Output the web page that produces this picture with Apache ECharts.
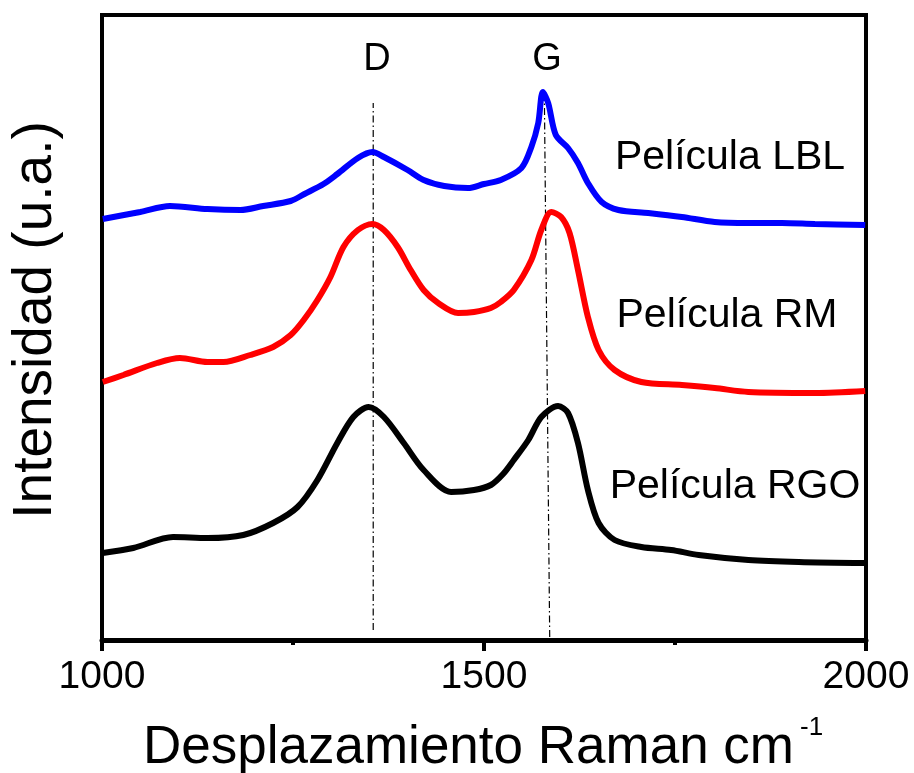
<!DOCTYPE html>
<html>
<head>
<meta charset="utf-8">
<script src="https://cdn.jsdelivr.net/npm/echarts@6/dist/echarts.min.js"></script>
<style>html,body{margin:0;padding:0;background:#fff;}#c{width:914px;height:773px;}</style>
</head>
<body>
<div id="c"></div>
<script>
// Raman shift (cm-1) vs intensity (arbitrary units, offset traces)
var lblData = [[1001,421],[1050,428],[1089,434],[1138,431],[1181,430],[1211,434],[1247,439],[1265,446],[1290,456],[1308,466],[1335,482],[1354,488],[1369,483],[1400,470],[1421,460],[1448,454],[1479,452],[1500,456],[1522,460],[1549,472],[1562,493],[1571,517],[1577,548],[1584,537],[1594,505],[1610,492],[1623,477],[1636,457],[1654,438],[1676,430],[1715,427],[1759,423],[1802,418],[1846,417],[1890,417],[1933,416],[1999,415]];
var rmData = [[1001,258],[1028,265],[1072,277],[1102,282],[1138,278],[1159,278],[1194,285],[1224,293],[1247,305],[1264,320],[1282,340],[1299,363],[1316,393],[1335,410],[1354,416],[1369,410],[1387,393],[1404,370],[1421,350],[1440,337],[1466,327],[1487,328],[1509,332],[1522,338],[1539,350],[1562,380],[1575,410],[1588,428],[1601,423],[1612,407],[1623,370],[1636,323],[1650,290],[1671,270],[1706,258],[1759,255],[1802,252],[1846,248],[1933,247],[1999,249]];
var rgoData = [[1001,87],[1041,92],[1093,103],[1138,102],[1185,105],[1224,117],[1256,133],[1282,160],[1308,197],[1329,223],[1349,233],[1369,223],[1395,197],[1421,170],[1457,148],[1487,150],[1509,155],[1525,166],[1539,180],[1558,200],[1575,223],[1597,234],[1610,227],[1623,197],[1636,150],[1650,117],[1671,100],[1706,93],[1745,90],[1781,85],[1846,80],[1912,78],[1999,77]];
var dLine = [[1355,10],[1355,537]];
var gLine = [[1586,3],[1579,545]];
var xTicks = [1000,1500,2000];
var seriesNames = ['Película LBL','Película RM','Película RGO'];
var peakNames = ['D','G'];

var FONT = 'Liberation Sans, Arial, sans-serif';
var chart = echarts.init(document.getElementById('c'));
var dashDot = [7,3,1.5,3];
chart.setOption({
  animation: false,
  grid: {left: 102, right: 48, top: 15, bottom: 133, show: true, borderColor: '#000', borderWidth: 4},
  xAxis: {
    type: 'value', min: xTicks[0], max: xTicks[2], interval: 500,
    axisLine: {show: true, lineStyle: {color: '#000', width: 5}},
    axisTick: {show: true, length: 11, lineStyle: {color: '#000', width: 4}},
    minorTick: {show: true, splitNumber: 2, length: 5, lineStyle: {color: '#000', width: 4}},
    splitLine: {show: false},
    axisLabel: {color: '#000', fontSize: 39, fontFamily: FONT, margin: 18, formatter: function (v) { return String(v); }}
  },
  yAxis: {
    type: 'value', min: 0, max: 625,
    axisLine: {show: true, lineStyle: {color: '#000', width: 4}},
    axisTick: {show: false}, axisLabel: {show: false}, splitLine: {show: false}
  },
  series: [
    {type: 'line', name: 'D', data: dLine, symbol: 'none', lineStyle: {color: '#000', width: 1.2, type: dashDot}, z: 1},
    {type: 'line', name: 'G', data: gLine, symbol: 'none', lineStyle: {color: '#000', width: 1.2, type: dashDot}, z: 1},
    {type: 'line', name: seriesNames[0], data: lblData, symbol: 'none', smooth: 0.3, lineStyle: {color: '#0000ff', width: 6}, z: 2},
    {type: 'line', name: seriesNames[1], data: rmData, symbol: 'none', smooth: 0.3, lineStyle: {color: '#ff0000', width: 6}, z: 2},
    {type: 'line', name: seriesNames[2], data: rgoData, symbol: 'none', smooth: 0.3, lineStyle: {color: '#000000', width: 6}, z: 2}
  ],
  graphic: [
    {type: 'text', position: [377, 60], style: {text: peakNames[0], font: '38px ' + FONT, fill: '#000', textAlign: 'center', textVerticalAlign: 'middle'}},
    {type: 'text', position: [547, 60], style: {text: peakNames[1], font: '38px ' + FONT, fill: '#000', textAlign: 'center', textVerticalAlign: 'middle'}},
    {type: 'text', position: [730, 158], style: {text: seriesNames[0], font: '41px ' + FONT, fill: '#000', textAlign: 'center', textVerticalAlign: 'middle'}},
    {type: 'text', position: [727, 316], style: {text: seriesNames[1], font: '41px ' + FONT, fill: '#000', textAlign: 'center', textVerticalAlign: 'middle'}},
    {type: 'text', position: [735, 487], style: {text: seriesNames[2], font: '41px ' + FONT, fill: '#000', textAlign: 'center', textVerticalAlign: 'middle'}},
    {type: 'text', position: [143, 748], style: {text: 'Desplazamiento Raman cm', font: '53px ' + FONT, fill: '#000', textAlign: 'left', textVerticalAlign: 'middle'}},
    {type: 'text', position: [800, 728], style: {text: '-1', font: '26px ' + FONT, fill: '#000', textAlign: 'left', textVerticalAlign: 'middle'}},
    {type: 'text', position: [36, 320], rotation: Math.PI / 2, style: {text: 'Intensidad (u.a.)', font: '55px ' + FONT, fill: '#000', textAlign: 'center', textVerticalAlign: 'middle'}}
  ]
});
</script>
</body>
</html>
